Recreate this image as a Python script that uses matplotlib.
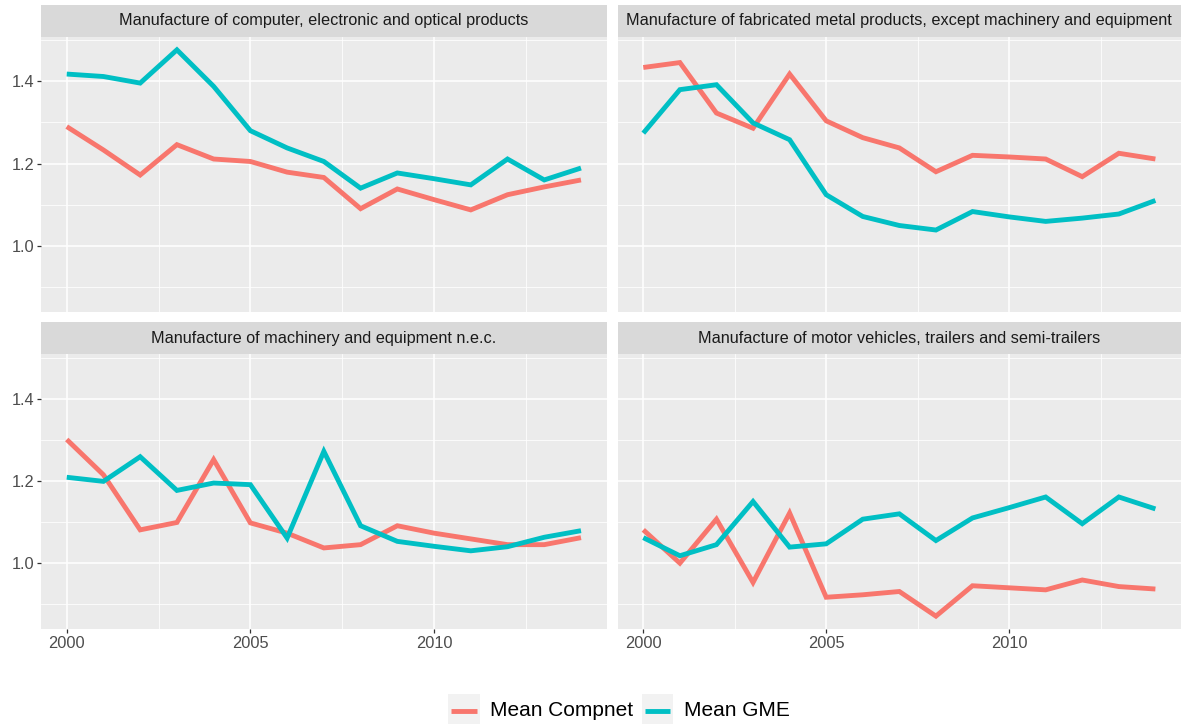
import matplotlib
matplotlib.use("Agg")
import matplotlib.pyplot as plt
from matplotlib.patches import Rectangle
from matplotlib.lines import Line2D
from matplotlib.ticker import MultipleLocator

plt.rcParams['font.family'] = ['Liberation Sans', 'DejaVu Sans']

years = list(range(2000, 2015))

sectors = [
    "Manufacture of computer, electronic and optical products",
    "Manufacture of fabricated metal products, except machinery and equipment",
    "Manufacture of machinery and equipment n.e.c.",
    "Manufacture of motor vehicles, trailers and semi-trailers",
]

compnet_computer = [1.290, 1.233, 1.172, 1.246, 1.211, 1.205, 1.179, 1.166,
                    1.090, 1.138, 1.112, 1.087, 1.124, 1.143, 1.160]
gme_computer = [1.418, 1.412, 1.396, 1.477, 1.388, 1.280, 1.238, 1.205,
                1.140, 1.177, 1.163, 1.148, 1.211, 1.160, 1.189]

compnet_metal = [1.434, 1.446, 1.323, 1.286, 1.418, 1.304, 1.263, 1.238,
                 1.180, 1.220, 1.216, 1.211, 1.168, 1.225, 1.211]
gme_metal = [1.274, 1.380, 1.392, 1.299, 1.258, 1.124, 1.071, 1.049,
             1.038, 1.083, 1.070, 1.059, 1.067, 1.077, 1.110]

compnet_machinery = [1.301, 1.215, 1.081, 1.099, 1.252, 1.098, 1.073, 1.037,
                     1.045, 1.091, 1.073, 1.059, 1.045, 1.045, 1.062]
gme_machinery = [1.209, 1.199, 1.259, 1.177, 1.195, 1.191, 1.061, 1.272,
                 1.091, 1.053, 1.041, 1.030, 1.040, 1.063, 1.079]

compnet_motor = [1.081, 1.000, 1.107, 0.953, 1.122, 0.917, 0.923, 0.931,
                 0.871, 0.945, 0.940, 0.935, 0.959, 0.943, 0.937]
gme_motor = [1.062, 1.018, 1.045, 1.150, 1.039, 1.047, 1.107, 1.120,
             1.055, 1.110, 1.135, 1.161, 1.096, 1.161, 1.132]

compnet_series = [compnet_computer, compnet_metal, compnet_machinery, compnet_motor]
gme_series = [gme_computer, gme_metal, gme_machinery, gme_motor]

series_labels = ["Mean Compnet", "Mean GME"]
series_colors = ["#F8766D", "#00BFC4"]

y_ticks = [1.0, 1.2, 1.4]
x_ticks = [2000, 2005, 2010]

W, H = 1186, 724
fig = plt.figure(figsize=(W / 100, H / 100), dpi=100)
fig.patch.set_facecolor("white")


def fbox(x0, y0, x1, y1):
    """Pixel box (top-left origin) to figure fraction rect."""
    return [x0 / W, 1 - y1 / H, (x1 - x0) / W, (y1 - y0) / H]


cols = [(41, 606.7), (617.7, 1181)]
rows = [((4.7, 36.7), (36.7, 311.7)), ((322.3, 354), (354, 629.3))]

for idx, name in enumerate(sectors):
    r, c = divmod(idx, 2)
    x0, x1 = cols[c]
    (s0, s1), (p0, p1) = rows[r]

    # strip
    sax = fig.add_axes(fbox(x0, s0, x1, s1))
    sax.set_facecolor("#D9D9D9")
    sax.set_xticks([])
    sax.set_yticks([])
    for sp in sax.spines.values():
        sp.set_visible(False)
    sax.text(0.5, 0.5, name, ha="center", va="center", fontsize=11.7,
             color="#1A1A1A", transform=sax.transAxes)

    # panel
    ax = fig.add_axes(fbox(x0, p0, x1, p1))
    ax.set_facecolor("#EBEBEB")
    for sp in ax.spines.values():
        sp.set_visible(False)
    ax.set_xlim(1999.3, 2014.7)
    ax.set_ylim(0.839, 1.509)
    ax.xaxis.set_minor_locator(MultipleLocator(2.5))
    ax.set_xticks(x_ticks)
    ax.set_yticks(y_ticks)
    ax.yaxis.set_minor_locator(MultipleLocator(0.1))
    ax.grid(which="major", color="white", linewidth=1.1)
    ax.grid(which="minor", color="white", linewidth=0.55)
    ax.set_axisbelow(True)
    ax.tick_params(which="minor", length=0)
    ax.tick_params(which="major", length=3, width=0.9, color="#333333",
                   labelsize=11.8, labelcolor="#4D4D4D", pad=2)
    if c == 1:
        ax.tick_params(axis="y", length=0, labelleft=False)
    else:
        ax.set_yticklabels([f"{v:.1f}" for v in y_ticks])
    if r == 0:
        ax.tick_params(axis="x", length=0, labelbottom=False)
    else:
        ax.set_xticklabels([str(v) for v in x_ticks])

    ax.plot(years, compnet_series[idx], color=series_colors[0], linewidth=3.5,
            solid_joinstyle="miter", solid_capstyle="butt")
    ax.plot(years, gme_series[idx], color=series_colors[1], linewidth=3.5,
            solid_joinstyle="miter", solid_capstyle="butt")

# legend along the bottom
key_boxes = [(448, 480), (641.7, 673)]
text_x = [490, 684]
ky0, ky1 = 694, 724
kyc = 711
for (kx0, kx1), tx, lab, col in zip(key_boxes, text_x, series_labels, series_colors):
    fig.add_artist(Rectangle((kx0 / W, 1 - ky1 / H), (kx1 - kx0) / W, (ky1 - ky0) / H,
                             transform=fig.transFigure, facecolor="#F2F2F2",
                             edgecolor="none"))
    fig.add_artist(Line2D([(kx0 + 3) / W, (kx1 - 3) / W], [1 - kyc / H, 1 - kyc / H],
                          transform=fig.transFigure, color=col, linewidth=3.5,
                          solid_capstyle="butt"))
    fig.text(tx / W, 1 - kyc / H, lab, ha="left", va="center", fontsize=15,
             color="black")

fig.savefig("out.png", dpi=100)
